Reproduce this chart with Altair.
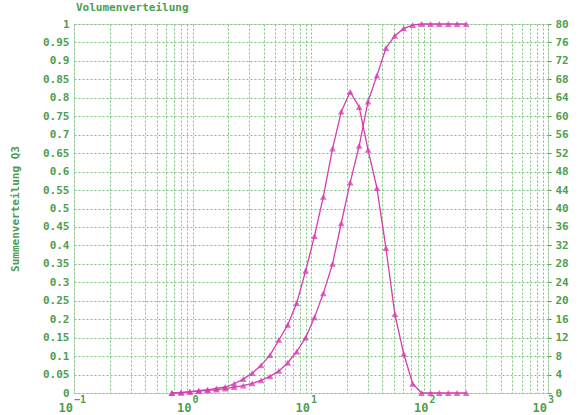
import altair as alt
import pandas as pd

# particle size (µm)
d_vals = [0.67, 0.80, 0.95, 1.13, 1.34, 1.59, 1.89, 2.25, 2.68, 3.19, 3.79, 4.51,
          5.36, 6.37, 7.58, 9.01, 10.7, 12.7, 15.2, 18.0, 21.4, 25.5, 30.3, 36.0,
          42.9, 51.0, 60.6, 72.1, 85.7, 102, 121, 144, 171, 204]
# cumulative distribution Q3 (left axis)
q3_cum = [0, 0.001, 0.003, 0.005, 0.007, 0.009, 0.012, 0.016, 0.020, 0.026, 0.034,
          0.045, 0.060, 0.082, 0.112, 0.150, 0.205, 0.27, 0.35, 0.46, 0.57, 0.67,
          0.79, 0.86, 0.935, 0.968, 0.988, 0.997, 1.0, 1.0, 1.0, 1.0, 1.0, 1.0]
# density distribution q3 (right axis)
q3_dens = [0, 0.1, 0.3, 0.5, 0.7, 1.0, 1.3, 2.0, 3.0, 4.3, 6.0, 8.2, 11.5, 14.8,
           19.5, 26.5, 34, 42.5, 53, 61, 65.3, 62, 52.7, 44.4, 31.4, 17.1, 8.5,
           2.0, 0, 0, 0, 0, 0, 0]

left_ticks = [0, 0.05, 0.1, 0.15, 0.2, 0.25, 0.3, 0.35, 0.4, 0.45, 0.5, 0.55, 0.6,
              0.65, 0.7, 0.75, 0.8, 0.85, 0.9, 0.95, 1]
right_ticks = [0, 4, 8, 12, 16, 20, 24, 28, 32, 36, 40, 44, 48, 52, 56, 60, 64, 68,
               72, 76, 80]
decades = [0.1, 1, 10, 100, 1000]
decade_base = ["10", "10", "10", "10", "10"]
decade_exp = ["−1", "0", "1", "2", "3"]

x_grid = [k * 10.0 ** e for e in range(-1, 3) for k in range(1, 10)] + [1000]

GREEN = "#4f9e4f"
GRID = "#7cc47c"
PINK = "#d63cb0"
FONT = "DejaVu Sans Mono"

df = pd.DataFrame({"d": d_vals, "cum": q3_cum, "dens": q3_dens})
lab = pd.DataFrame({"d": decades, "base": decade_base, "exp": decade_exp})

W, H = 474, 369

xscale = alt.Scale(type="log", domain=[0.1, 1000], nice=False)
xaxis = alt.Axis(values=x_grid, labels=False, ticks=False, domain=False,
                 grid=True, gridColor=GRID, gridDash=[2, 2],
                 gridWidth=1, title=None)
xenc = alt.X("d:Q", scale=xscale, axis=xaxis)

base = alt.Chart(df)

cum_y = alt.Y("cum:Q", scale=alt.Scale(domain=[0, 1], nice=False, zero=True),
              axis=alt.Axis(values=left_ticks, labelExpr="format(datum.value, '~g')",
                            orient="left", grid=True, gridColor=GRID,
                            gridDash=[2, 2], domain=False, ticks=False,
                            labelOverlap=False,
                            labelColor=GREEN, labelFont=FONT, labelFontSize=11,
                            labelFontWeight="bold", labelPadding=5,
                            title="Summenverteilung Q3", titleColor=GREEN,
                            titleFont=FONT, titleFontSize=11,
                            titleFontWeight="bold", titlePadding=22))
cum_line = base.mark_line(color=PINK, strokeWidth=1.3).encode(x=xenc, y=cum_y)
cum_pts = base.mark_point(shape="triangle-up", color=PINK, filled=True,
                          size=45, opacity=0.75).encode(x=xenc, y=cum_y)
cum_layer = alt.layer(cum_line, cum_pts)

dens_y = alt.Y("dens:Q", scale=alt.Scale(domain=[0, 80], nice=False, zero=True),
               axis=alt.Axis(values=right_ticks, orient="right", grid=False,
                             domain=False, ticks=True, tickSize=3,
                             labelOverlap=False,
                             tickColor=GREEN, labelColor=GREEN, labelFont=FONT,
                             labelFontSize=11, labelFontWeight="bold",
                             labelPadding=4, title=None))
dens_line = base.mark_line(color=PINK, strokeWidth=1.3).encode(x=xenc, y=dens_y)
dens_pts = base.mark_point(shape="triangle-up", color=PINK, filled=True,
                           size=45, opacity=0.75).encode(x=xenc, y=dens_y)
dens_layer = alt.layer(dens_line, dens_pts)

lab_base = alt.Chart(lab).mark_text(
    align="right", baseline="alphabetic", color=GREEN, font=FONT,
    fontSize=12, fontWeight="bold", dx=-1
).encode(x=xenc, y=alt.value(H + 19), text="base:N")
lab_exp = alt.Chart(lab).mark_text(
    align="left", baseline="alphabetic", color=GREEN, font=FONT,
    fontSize=10, fontWeight="bold", dx=0
).encode(x=xenc, y=alt.value(H + 10), text="exp:N")

chart = alt.layer(cum_layer, dens_layer, lab_base, lab_exp).resolve_scale(
    y="independent"
).properties(
    width=W, height=H,
    autosize="none",
    padding={"left": 74, "top": 24, "right": 39, "bottom": 22},
    title=alt.TitleParams("Volumenverteilung", anchor="start", frame="group",
                          color=GREEN, font=FONT, fontSize=11,
                          fontWeight="bold", offset=5, dx=2)
).configure_view(
    stroke=GREEN, strokeWidth=1.5
).configure(background="white")

chart.save("out.html", embed_options={"renderer": "svg", "actions": False})
